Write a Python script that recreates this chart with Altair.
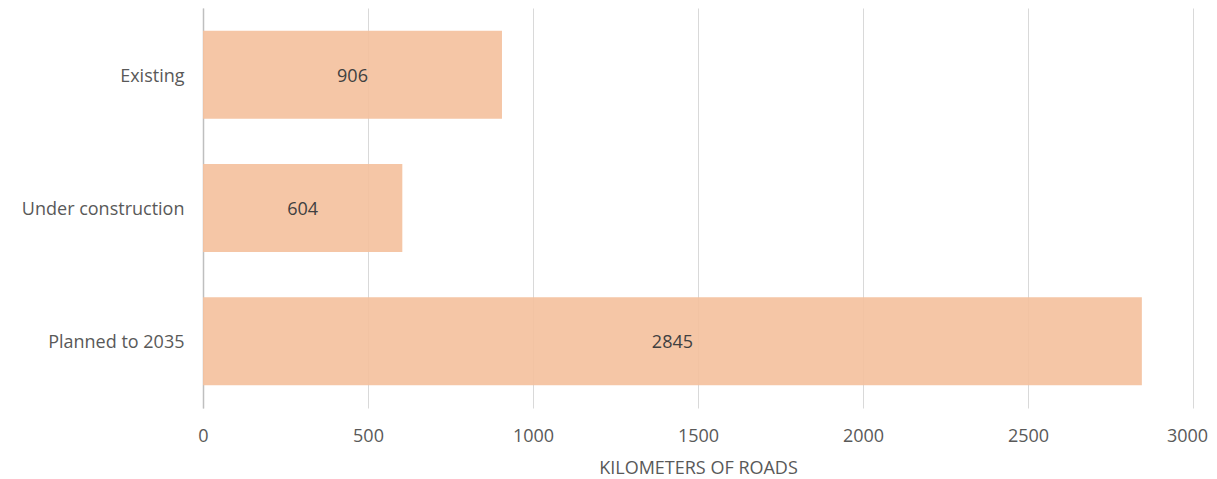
import altair as alt
import pandas as pd

categories = ["Existing", "Under construction", "Planned to 2035"]
values = [906, 604, 2845]
x_ticks = [0, 500, 1000, 1500, 2000, 2500, 3000]

df = pd.DataFrame({"category": categories, "km": values})
df["mid"] = df["km"] / 2

FONT = "Open Sans"
LABEL = "#595959"
FS = 18

y_enc = alt.Y(
    "category:N",
    sort=categories,
    title=None,
    scale=alt.Scale(paddingInner=0.34, paddingOuter=0.17),
    axis=alt.Axis(
        labelFont=FONT, labelFontSize=FS, labelColor=LABEL, labelPadding=19,
        labelOffset=2,
        ticks=False, domain=True, domainColor="#bfbfbf", domainWidth=1.5,
        grid=False, minExtent=195, maxExtent=195,
    ),
)

bars = alt.Chart(df).mark_bar(color="#F4C19E", opacity=0.92).encode(
    x=alt.X(
        "km:Q",
        title="KILOMETERS OF ROADS",
        scale=alt.Scale(domain=[0, 3000], nice=False),
        axis=alt.Axis(
            values=x_ticks, format="d", labelFont=FONT, labelFontSize=FS,
            labelColor=LABEL, labelPadding=19, labelFlush=False,
            labelOffset={"expr": "datum.value == 3000 ? -6 : 0"},
            ticks=False, domain=False,
            grid=True, gridColor="#d9d9d9", gridWidth=1,
            titleFont=FONT, titleFontSize=FS, titleColor=LABEL,
            titleFontWeight="normal", titlePadding=14,
        ),
    ),
    y=y_enc,
)

text = alt.Chart(df).mark_text(
    font=FONT, fontSize=FS, color="#404040", baseline="middle", align="center",
    dy=2,
).encode(
    x=alt.X("mid:Q"),
    y=alt.Y("category:N", sort=categories),
    text=alt.Text("km:Q", format="d"),
)

chart = (bars + text).properties(
    width=990, height=400,
    padding={"left": 0, "top": 0, "right": 0, "bottom": 5},
).configure_view(stroke=None)

chart.save("out.html", embed_options={"renderer": "svg", "actions": False})
